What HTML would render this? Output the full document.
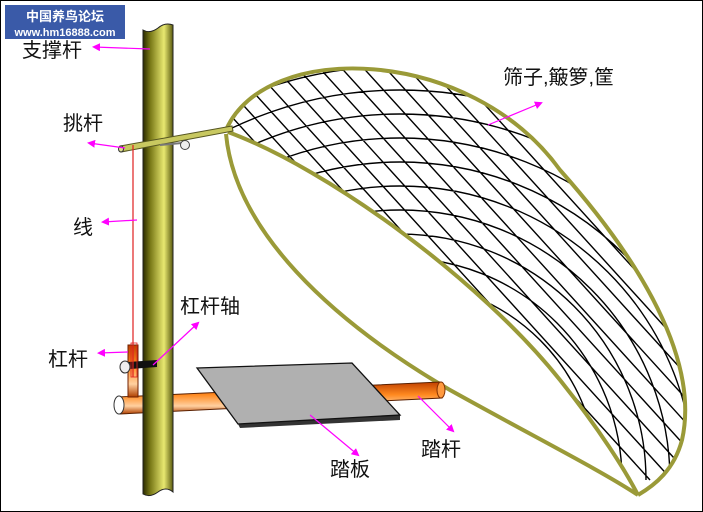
<!DOCTYPE html>
<html><head><meta charset="utf-8"><style>
html,body{margin:0;padding:0;background:#fff;width:703px;height:512px;overflow:hidden}
svg{display:block;overflow:hidden}
text{font-family:"Liberation Sans","Noto Sans CJK SC",sans-serif;fill:#111}
</style></head><body>
<svg id="s" width="703" height="512" viewBox="0 0 703 512" xmlns="http://www.w3.org/2000/svg">
<defs>
<linearGradient id="pole" x1="0" x2="1" y1="0" y2="0">
<stop offset="0" stop-color="#2a2a00"/><stop offset="0.25" stop-color="#7a7a18"/><stop offset="0.7" stop-color="#e8e870"/><stop offset="1" stop-color="#5a5a10"/></linearGradient>
<linearGradient id="org" x1="0" x2="0" y1="0" y2="1">
<stop offset="0" stop-color="#c04000"/><stop offset="0.4" stop-color="#ff8a20"/><stop offset="0.75" stop-color="#ffd0a0"/><stop offset="1" stop-color="#b04000"/></linearGradient>
<marker id="ar" markerWidth="8" markerHeight="8" refX="6" refY="4" orient="auto" markerUnits="userSpaceOnUse" viewBox="0 0 8 8"><path d="M0,0 L8,4 L0,8 Z" fill="#f0f"/></marker>
<clipPath id="cp"><path d="M226,130 C265,40 470,45 560,170 C640,260 700,360 682,440 C674,470 655,485 638,495 C625,470 600,430 560,380 C480,280 330,170 228,132 Z"/></clipPath>
</defs>
<rect x="0.5" y="0.5" width="702" height="511" fill="#fff" stroke="#000"/>
<rect x="5" y="5" width="120" height="34" fill="#3a5aa8"/>
<text x="65" y="21" text-anchor="middle" style="fill:#fff;font-size:13px;font-weight:bold">中国养鸟论坛</text>
<text x="65" y="36" text-anchor="middle" style="fill:#fff;font-size:11px;font-weight:bold">www.hm16888.com</text>

<g id="net" stroke="#000" stroke-width="1.4" fill="none" clip-path="url(#cp)"></g>
<path d="M226,130 C265,40 470,45 560,170 C640,260 700,360 682,440 C674,470 655,485 638,495" fill="none" stroke="#9a9a38" stroke-width="4"/>
<path d="M228,132 C330,170 480,280 560,380 C600,430 625,470 638,495" fill="none" stroke="#9a9a38" stroke-width="4"/>
<path d="M226,134 C235,230 330,320 450,390 C540,440 600,470 638,495" fill="none" stroke="#9a9a38" stroke-width="4"/>

<path d="M118,397 L440,382 L442,398 L120,414 Z" fill="url(#org)" stroke="#5a2000" stroke-width="1"/>
<ellipse cx="119" cy="405" rx="5" ry="9" fill="#fff" stroke="#333"/>
<ellipse cx="441" cy="390" rx="4" ry="8" fill="#ff9a40" stroke="#803000"/>
<path d="M238,424 L400,415 L400,420 L240,428 Z" fill="#333"/>
<path d="M197,368 L352,363 L400,415 L238,424 Z" fill="#b0b0b0" stroke="#111" stroke-width="1.3"/>
<rect x="128" y="345" width="10" height="52" fill="url(#org)" stroke="#702000"/>
<path d="M143,30 Q150,34 158,28 Q165,22 173,25 L173,492 Q166,486 158,492 Q150,498 143,494 Z" fill="url(#pole)" stroke="#222" stroke-width="1"/>
<path d="M128,362 L157,360 L157,367 L130,369 Z" fill="#111"/>
<ellipse cx="125" cy="367" rx="5" ry="6" fill="#eee" stroke="#333"/>
<path d="M120,146 L232,126 L233,131 L121,152 Z" fill="#c8c860" stroke="#555520" stroke-width="1"/>
<ellipse cx="121" cy="149" rx="2.5" ry="3" fill="#dddd90" stroke="#333"/>
<path d="M160,145 L182,143" stroke="#777" stroke-width="2"/>
<circle cx="185" cy="145" r="4.5" fill="#eee" stroke="#444"/>
<path d="M133,145 L133,377" stroke="#e02020" stroke-width="1.2" fill="none"/>
<rect x="131" y="343" width="6" height="34" fill="none" stroke="#e02020" stroke-width="0.8"/>

<g stroke="#f0f" stroke-width="1.2" fill="none" marker-end="url(#ar)">
<line x1="150" y1="49" x2="94" y2="47"/>
<line x1="125" y1="148" x2="89" y2="143"/>
<line x1="137" y1="220" x2="103" y2="222"/>
<line x1="128" y1="352" x2="99" y2="353"/>
<line x1="153" y1="365" x2="198" y2="323"/>
<line x1="310" y1="415" x2="358" y2="455"/>
<line x1="418" y1="396" x2="453" y2="431"/>
<line x1="488" y1="125" x2="541" y2="103"/>
</g>
<g style="font-size:20px">
<text x="22" y="57">支撑杆</text>
<text x="63" y="130">挑杆</text>
<text x="73" y="234">线</text>
<text x="48" y="366">杠杆</text>
<text x="180" y="313">杠杆轴</text>
<text x="330" y="476">踏板</text>
<text x="421" y="456">踏杆</text>
<text x="503" y="84">筛子,簸箩,筐</text>
</g>
</svg>
<script>
(function(){
var d='';
for(var r=150;r<=420;r+=24){d+='M'+(400-r)+',480 A'+r+','+r+' 0 0 1 '+(400+r)+',480 ';}
for(var c=-300;c<=560;c+=22){d+='M'+c+',40 L'+(c+400)+','+(40+400*1.1).toFixed(0)+' ';}
var e=document.createElementNS('http://www.w3.org/2000/svg','path');e.setAttribute('d',d);document.getElementById('net').appendChild(e);
})();
</script>
</body></html>
